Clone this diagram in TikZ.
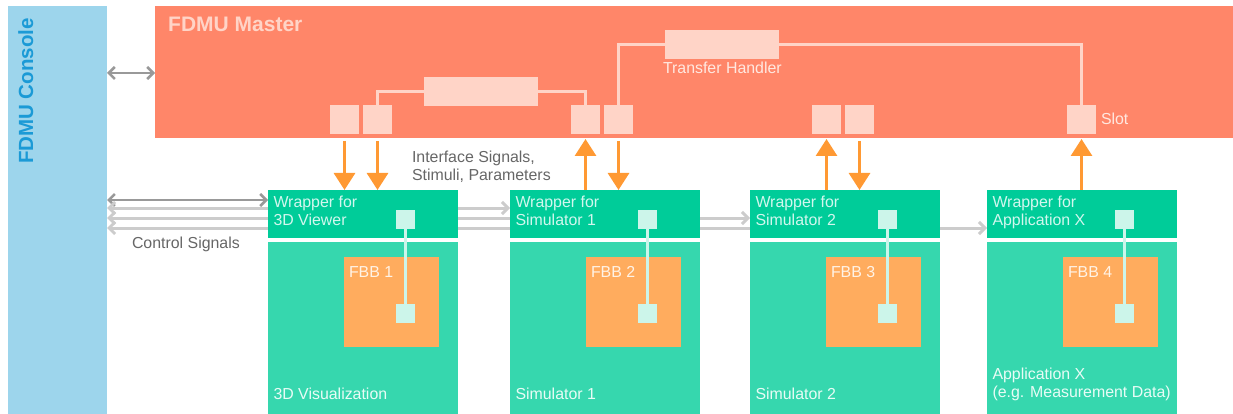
\documentclass[tikz,border=0pt]{standalone}
\usepackage{fontspec}
\setmainfont{Liberation Sans}
\usetikzlibrary{arrows.meta}
\pgfdeclarelayer{bg}
\pgfsetlayers{bg,main}
\definecolor{console}{HTML}{9DD5EC}
\definecolor{consoletext}{HTML}{1B9AD6}
\definecolor{master}{HTML}{FF8669}
\definecolor{mpink}{HTML}{FFD4C7}
\definecolor{wrap}{HTML}{00CC99}
\definecolor{app}{HTML}{36D7AE}
\definecolor{fbb}{HTML}{FFAC5E}
\definecolor{mint}{HTML}{CCF5EA}
\definecolor{orng}{HTML}{FF9933}
\definecolor{dgray}{HTML}{999999}
\definecolor{lgray}{HTML}{CCCCCC}
\definecolor{tgray}{HTML}{666666}
\definecolor{wtext}{HTML}{D2F7EE}
\definecolor{atext}{HTML}{E8FCF6}
\definecolor{fbbtext}{HTML}{FFF3E6}
\definecolor{thtext}{HTML}{FFE8E0}
\begin{document}
\begin{tikzpicture}[x=1pt,y=-1pt,
  box/.style={draw=none,inner sep=0pt,outer sep=0pt,anchor=north west},
  sq/.style={box,fill=mpink,minimum size=29pt},
  lbl/.style={inner sep=0pt,outer sep=0pt,font=\fontsize{15.9}{18}\selectfont,align=left},
  pline/.style={draw=mpink,line width=2.5pt},
  mline/.style={draw=mint,line width=2.5pt},
  oarr/.style={draw=orng,line width=3pt,-{Triangle[length=17pt,width=21pt]}},
  dline/.style={draw=dgray,line width=2.5pt,{Straight Barb[length=6pt,width=12pt]}-{Straight Barb[length=6pt,width=12pt]}},
  lline/.style={draw=lgray,line width=3pt,{Straight Barb[length=6pt,width=12pt]}-{Straight Barb[length=6pt,width=12pt]}}]
\useasboundingbox (0,0) rectangle (1233,414);
% console and master
\node[box,fill=console,minimum width=99pt,minimum height=408pt] (con) at (8,6) {};
\node[box,fill=master,minimum width=1078pt,minimum height=132pt] (mas) at (155,6) {};
\node[anchor=base east,rotate=90,inner sep=0pt,font=\bfseries\fontsize{20.5}{24}\selectfont,text=consoletext] (ct) at (33,18) {FDMU Console};
\node[anchor=base west,inner sep=0pt,font=\bfseries\fontsize{21}{24}\selectfont,text=mpink] (mtitle) at (168,32) {FDMU Master};
% slots
\node[sq] (s1) at (330,105) {};
\node[sq] (s2) at (363,105) {};
\node[sq] (s3) at (571,105) {};
\node[sq] (s4) at (604,105) {};
\node[sq] (s5) at (812,105) {};
\node[sq] (s6) at (845,105) {};
\node[sq] (slot) at (1067,105) {};
\node[box,fill=mpink,minimum width=114pt,minimum height=29pt] (ifr) at (424,77) {};
\node[box,fill=mpink,minimum width=114pt,minimum height=29pt] (th) at (665,30) {};
\draw[pline] (s2.north) |- (ifr.west);
\draw[pline] (ifr.east) -| (s3.north);
\draw[pline] (s4.north) |- (th.west);
\draw[pline] (th.east) -| (slot.north);
\node[lbl,anchor=base west,text=thtext] (thl) at (663,74) {Transfer Handler};
\node[lbl,anchor=base west,text=thtext] (sll) at (1101,125) {Slot};
% applications
\foreach \i/\x in {1/268,2/510,3/750,4/987} {
  \node[box,fill=wrap,minimum width=190pt,minimum height=48pt] (w\i) at (\x,190) {};
  \node[box,fill=app,minimum width=190pt,minimum height=172pt] (a\i) at (\x,242) {};
  \node[box,fill=fbb,minimum width=95pt,minimum height=90pt] (f\i) at (\x+76,257) {};
  \node[box,fill=mint,minimum size=19pt] (mt\i) at (\x+128,210) {};
  \node[box,fill=mint,minimum size=19pt] (mb\i) at (\x+128,304) {};
  \draw[mline] (mt\i.south) -- (mb\i.north);
  \node[lbl,anchor=base west,text=fbbtext] (fl\i) at (\x+81,277) {FBB \i};
}
\node[lbl,anchor=north west,text=wtext] (wl1) at (273.5,195.5) {Wrapper for\\3D Viewer};
\node[lbl,anchor=north west,text=wtext] (wl2) at (515.5,195.5) {Wrapper for\\Simulator 1};
\node[lbl,anchor=north west,text=wtext] (wl3) at (755.5,195.5) {Wrapper for\\Simulator 2};
\node[lbl,anchor=north west,text=wtext] (wl4) at (992.5,195.5) {Wrapper for\\Application X};
\node[lbl,anchor=base west,text=atext] (al1) at (273.5,399) {3D Visualization};
\node[lbl,anchor=base west,text=atext] (al2) at (515.5,399) {Simulator 1};
\node[lbl,anchor=base west,text=atext] (al3) at (755.5,399) {Simulator 2};
\node[lbl,anchor=north west,text=atext] (al4) at (992.5,367.5) {Application X\\(e.g. Measurement Data)};
% other labels
\node[lbl,anchor=base west,text=tgray] (csl) at (132,248) {Control Signals};
\node[lbl,anchor=north west,text=tgray] (isl) at (412,150.5) {Interface Signals,\\Stimuli, Parameters};
% orange arrows
\draw[oarr] ([yshift=-3pt]s1.south |- mas.south) -- (s1.south |- w1.north);
\draw[oarr] ([yshift=-3pt]s2.south |- mas.south) -- (s2.south |- w1.north);
\draw[oarr] (s3.south |- w2.north) -- ([yshift=-1pt]s3.south |- mas.south);
\draw[oarr] ([yshift=-3pt]s4.south |- mas.south) -- (s4.south |- w2.north);
\draw[oarr] (s5.south |- w3.north) -- ([yshift=-1pt]s5.south |- mas.south);
\draw[oarr] ([yshift=-3pt]s6.south |- mas.south) -- (s6.south |- w3.north);
\draw[oarr] (slot.south |- w4.north) -- ([yshift=-1pt]slot.south |- mas.south);
% gray connectors
\draw[dline] (con.east |- 0,73) -- (mas.west |- 0,73);
\begin{pgfonlayer}{bg}
\draw[dline] (con.east |- 0,200) -- (w1.west |- 0,200);
\draw[lline] (con.east |- 0,208) -- (w2.west |- 0,208);
\draw[lline] (con.east |- 0,218) -- (w3.west |- 0,218);
\draw[lline] (con.east |- 0,228) -- (w4.west |- 0,228);
\end{pgfonlayer}
\end{tikzpicture}
\end{document}
